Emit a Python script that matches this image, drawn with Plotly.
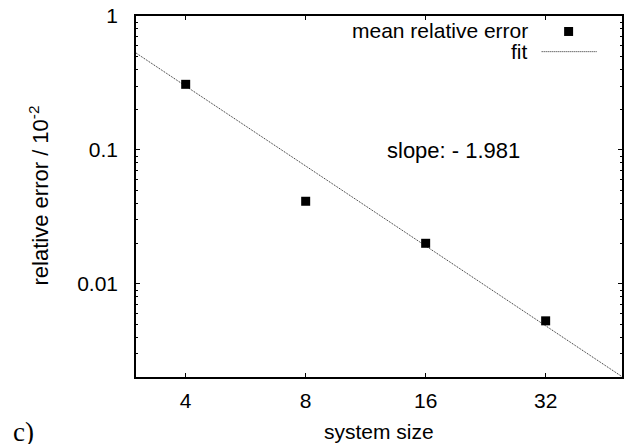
import plotly.graph_objects as go

# ---- data ----
system_size = [4, 8, 16, 32]
mean_rel_error = [0.309, 0.0414, 0.0201, 0.0053]
fit_x = [3.0, 50.0]
fit_y = [0.53, 0.00201]

x_tickvals = [4, 8, 16, 32]
x_ticktext = ["4", "8", "16", "32"]
y_tickvals = [1, 0.1, 0.01]
y_ticktext = ["1", "0.1", "0.01"]

FONT = "Liberation Sans, Arial, sans-serif"
FS = 21

fig = go.Figure()
fig.add_trace(go.Scatter(
    x=fit_x, y=fit_y, mode="lines",
    line=dict(color="#222222", width=1, dash="1px,1px"),
    showlegend=False, hoverinfo="skip"))
fig.add_trace(go.Scatter(
    x=system_size, y=mean_rel_error, mode="markers",
    marker=dict(symbol="square", size=9, color="black", line=dict(width=0)),
    showlegend=False))

W, H = 627, 444
L, R, T, B = 135.5, 622.5, 16, 377.5
pw, ph = R - L, B - T

def px(xp):
    return (xp - L) / pw

def py(yp):
    return (B - yp) / ph

fig.update_layout(
    width=W, height=H,
    margin=dict(l=L, r=W - R, t=T, b=H - B, pad=0),
    paper_bgcolor="white", plot_bgcolor="white",
    font=dict(family=FONT, size=FS, color="black"),
    showlegend=False,
    xaxis=dict(
        type="log", range=[0.4774, 1.6967],
        tickmode="array", tickvals=x_tickvals, ticktext=x_ticktext,
        ticks="inside", ticklen=4, tickwidth=1, tickcolor="black",
        showline=True, linecolor="black", linewidth=1.5, mirror="allticks",
        showgrid=False, zeroline=False, ticklabelstandoff=4,
        tickfont=dict(family=FONT, size=FS, color="black"),
    ),
    yaxis=dict(
        type="log", range=[-2.695, 0],
        tickmode="array", tickvals=y_tickvals, ticktext=y_ticktext,
        ticks="inside", ticklen=4, tickwidth=1, tickcolor="black",
        minor=dict(ticks="inside", ticklen=2, tickwidth=1, tickcolor="black",
                   dtick="D1", showgrid=False),
        showline=True, linecolor="black", linewidth=1.5, mirror="allticks",
        showgrid=False, zeroline=False, ticklabelstandoff=12,
        tickfont=dict(family=FONT, size=FS, color="black"),
    ),
    annotations=[
        dict(text="relative error / 10<sup>-2</sup>", textangle=-90,
             xref="paper", yref="paper", x=px(38), y=py(196),
             xanchor="center", yanchor="middle", showarrow=False,
             font=dict(family=FONT, size=22, color="black")),
        dict(text="system size", xref="paper", yref="paper",
             x=0.5, y=py(432), xanchor="center", yanchor="middle",
             showarrow=False, font=dict(family=FONT, size=FS, color="black")),
        dict(text="slope: - 1.981", xref="paper", yref="paper",
             x=px(454), y=py(151), xanchor="center", yanchor="middle",
             showarrow=False, font=dict(family=FONT, size=22, color="black")),
        dict(text="mean relative error", xref="paper", yref="paper",
             x=px(530), y=py(31), xanchor="right", yanchor="middle",
             showarrow=False, font=dict(family=FONT, size=FS, color="black")),
        dict(text="fit", xref="paper", yref="paper",
             x=px(530), y=py(52), xanchor="right", yanchor="middle",
             showarrow=False, font=dict(family=FONT, size=FS, color="black")),
        dict(text="c)", xref="paper", yref="paper",
             x=px(10), y=py(416), xanchor="left", yanchor="top",
             showarrow=False,
             font=dict(family="Liberation Serif, Times New Roman, serif", size=27, color="black")),
    ],
    shapes=[
        dict(type="rect", xref="paper", yref="paper",
             x0=px(564.5), x1=px(573.5), y0=py(36), y1=py(27),
             fillcolor="black", line=dict(width=0)),
        dict(type="line", xref="paper", yref="paper",
             x0=px(542), x1=px(597), y0=py(51.7), y1=py(51.7),
             line=dict(color="#222222", width=1, dash="1px,1px")),
    ],
)

fig.write_html("out.html")
